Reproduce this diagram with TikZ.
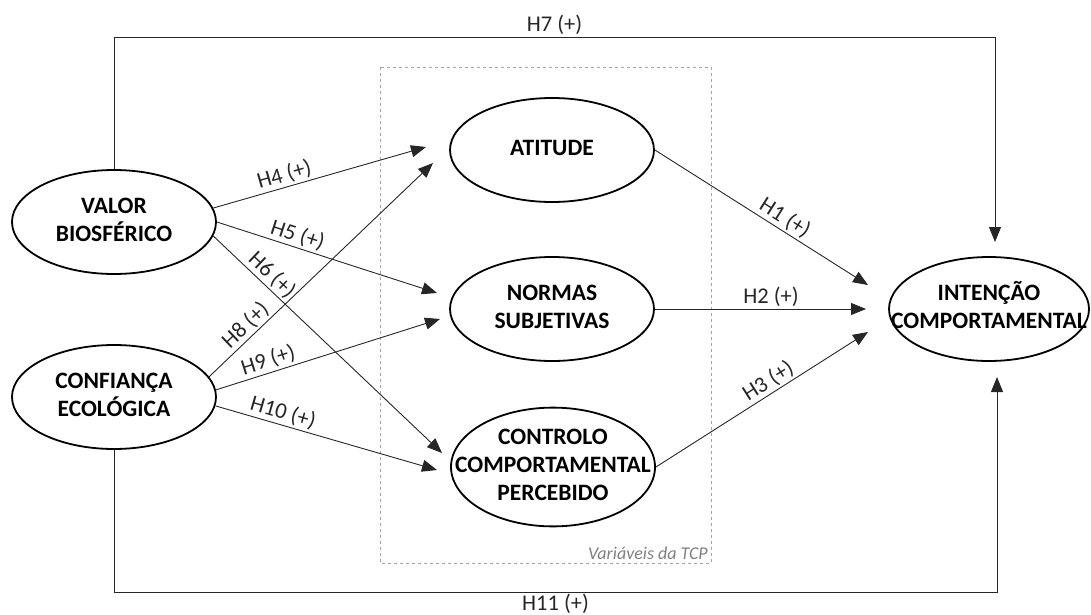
\documentclass[tikz,border=0pt]{standalone}
\usepackage{fontspec}
\setmainfont{Carlito}
\usepackage{tikz}
\usetikzlibrary{shapes.geometric,arrows.meta,calc}

% centred lines that do not widen the ellipse
\newcommand{\vartxt}[1]{\makebox[0pt]{\begin{tabular}{@{}c@{}}#1\end{tabular}}}

\begin{document}
\begin{tikzpicture}[x=1pt,y=-1pt,
        latent/.style={ellipse, draw=black, line width=1.8pt, minimum width=204pt, minimum height=104pt, inner sep=0pt,
            font=\fontsize{23.5}{28}\selectfont\bfseries},
        hyp/.style={draw=black!85, line width=0.9pt, -{Triangle[length=15pt,width=12pt]}},
        hlab/.style={font=\fontsize{22.5}{26}\selectfont, text=black!85, inner sep=2pt}]
        \useasboundingbox (0,0) rectangle (1091,615);

        % TPB box
        \coordinate (TCPnw) at (380,67);
        \coordinate (TCPse) at (711,563);
        \draw[gray!70, dashed, line width=0.8pt] (TCPnw) rectangle (TCPse);
        \node[anchor=south east, inner sep=3pt, text=gray, font=\fontsize{18}{21}\selectfont\itshape] (tcplab) at (TCPse) {Variáveis da TCP};

        % The constructs
        \node[latent] (vb) at (114,222) {\vartxt{VALOR\\BIOSFÉRICO}};
        \node[latent] (ce) at (114,397) {\vartxt{CONFIANÇA\\ECOLÓGICA}};
        \node[latent] (at) at (552,150) {\vartxt{ATITUDE}};
        \node[latent] (ns) at (552,309) {\vartxt{NORMAS\\SUBJETIVAS}};
        \node[latent] (cc) at (553,467) {\vartxt{CONTROLO\\COMPORTAMENTAL\\PERCEBIDO}};
        \node[latent, minimum width=200pt] (ic) at (989,309) {\vartxt{INTENÇÃO\\COMPORTAMENTAL}};

        % Arrow tips (they stop short of the ellipses)
        \coordinate (H4end) at (426,147);
        \coordinate (H8end) at (433,163);
        \coordinate (H5end) at (437,293);
        \coordinate (H9end) at (440,319);
        \coordinate (H6end) at (442,453);
        \coordinate (H10end) at (437,470);
        \coordinate (H1end) at (868,285);
        \coordinate (H2end) at (866,309);
        \coordinate (H3end) at (868,332);
        \coordinate (H7end) at (995,242);
        \coordinate (H11end) at (997,377);

        % Valor biosferico
        \draw[hyp] (vb.8) -- (H4end) node[hlab, sloped, above, pos=0.35] {H4 (+)};
        \draw[hyp] (vb.east) -- (H5end) node[hlab, sloped, above, pos=0.35] {H5 (+)};
        \draw[hyp] (vb.-8) -- (H6end) node[hlab, sloped, above, pos=0.22] {H6 (+)};

        % Confianca ecologica
        \draw[hyp] (ce.12) -- (H8end) node[hlab, sloped, above, pos=0.2] {H8 (+)};
        \draw[hyp] (ce.4) -- (H9end) node[hlab, sloped, above, pos=0.25] {H9 (+)};
        \draw[hyp] (ce.-5) -- (H10end) node[hlab, sloped, above, pos=0.29] {H10 (+)};

        % TCP -> intencao
        \draw[hyp] (at.east) -- (H1end) node[hlab, sloped, above, pos=0.58] {H1 (+)};
        \draw[hyp] (ns.east) -- (H2end) node[hlab, above, pos=0.55] {H2 (+)};
        \draw[hyp] (cc.east) -- (H3end) node[hlab, sloped, above, pos=0.56] {H3 (+)};

        % Direct effects round the box
        \draw[hyp] (vb.north) -- (vb.north |- 0,37) -| node[hlab, above, pos=0.25] {H7 (+)} (H7end);
        \draw[hyp] (ce.south) -- (ce.south |- 0,592) -| node[hlab, below, pos=0.25] {H11 (+)} (H11end);

    \end{tikzpicture}
\end{document}
